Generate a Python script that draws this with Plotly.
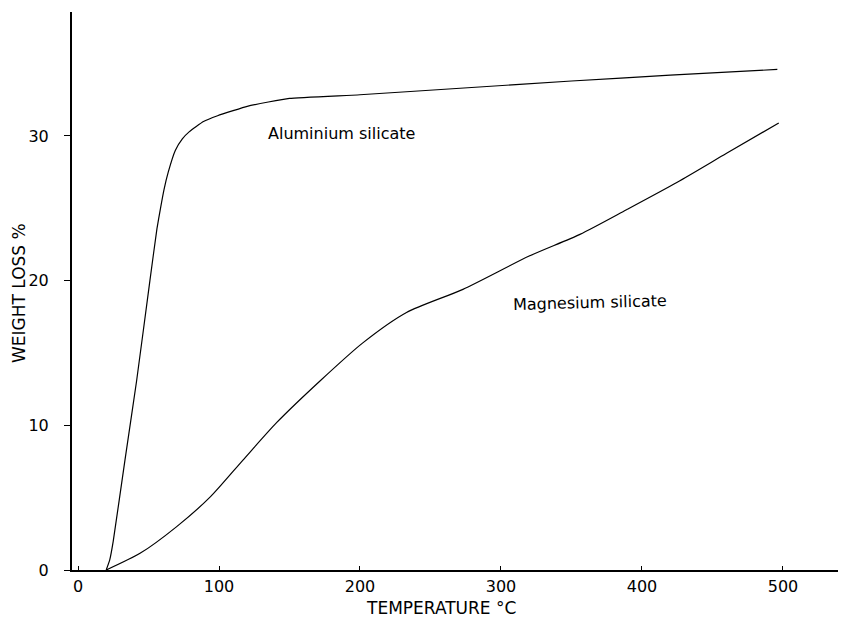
import plotly.graph_objects as go

# Aluminium silicate
al_temp = [20, 22.5, 25, 33.3, 41.6, 51, 56, 58.5, 61, 64, 69, 74, 79, 89, 99, 110, 120, 135, 150, 200, 271, 350, 420, 496]
al_loss = [0, 0.7, 2.0, 7.6, 13.1, 20.0, 23.6, 25.0, 26.3, 27.5, 29.0, 29.8, 30.3, 31.0, 31.4, 31.75, 32.05, 32.35, 32.6, 32.85, 33.3, 33.8, 34.2, 34.6]

# Magnesium silicate
mg_temp = [20, 44, 70, 94, 117, 141, 172, 202, 233, 273, 320, 356, 389, 425, 460, 497]
mg_loss = [0, 1.15, 3.0, 5.07, 7.6, 10.2, 13.1, 15.7, 17.8, 19.4, 21.7, 23.2, 24.9, 26.8, 28.8, 30.9]

x_ticks = [0, 100, 200, 300, 400, 500]
y_ticks = [0, 10, 20, 30]

labels = ["Aluminium silicate", "Magnesium silicate"]
label_x = [187, 363]
label_y = [30.2, 18.5]
label_angle = [0, -1.5]

x_title = "TEMPERATURE °C"
y_title = "WEIGHT LOSS %"

font_family = "DejaVu Sans"

# page body has an 8px margin; figure sized to fit exactly in the window
W, H = 838, 609
L, T, B, R = 64, 4, 47, 0
PW, PH = W - L - R, H - T - B

fig = go.Figure()
fig.add_trace(go.Scatter(x=al_temp, y=al_loss, mode="lines",
                         line=dict(color="black", width=1.2, shape="spline", smoothing=0.4),
                         showlegend=False))
fig.add_trace(go.Scatter(x=mg_temp, y=mg_loss, mode="lines",
                         line=dict(color="black", width=1.2, shape="spline", smoothing=0.7),
                         showlegend=False))

for t, lx, ly, a in zip(labels, label_x, label_y, label_angle):
    fig.add_annotation(x=lx, y=ly, text=t, showarrow=False, textangle=a,
                       font=dict(family=font_family, size=16, color="black"))

fig.add_annotation(xref="paper", yref="paper", x=(441 - 72) / PW, y=-(608 - 570) / PH,
                   text=x_title, showarrow=False, xanchor="center", yanchor="middle",
                   font=dict(family=font_family, size=17, color="black"))
fig.add_annotation(xref="paper", yref="paper", x=-(72 - 19) / PW, y=(570 - 293) / PH,
                   text=y_title, showarrow=False, textangle=-90, xanchor="center", yanchor="middle",
                   font=dict(family=font_family, size=17, color="black"))

fig.update_layout(
    width=W, height=H,
    margin=dict(l=L, r=R, t=T, b=B, autoexpand=False),
    paper_bgcolor="white", plot_bgcolor="white",
    font=dict(family=font_family, color="black"),
    xaxis=dict(range=[-4.26, 544.7], tickvals=x_ticks, ticktext=[str(v) for v in x_ticks],
               showgrid=False, zeroline=False, showline=True, linecolor="black", linewidth=1.5,
               ticks="inside", ticklen=4, tickcolor="black", automargin=False,
               ticklabelstandoff=1,
               tickfont=dict(size=16, family=font_family)),
    yaxis=dict(range=[0, 38.57], tickvals=y_ticks, ticktext=[str(v) for v in y_ticks],
               showgrid=False, zeroline=False, showline=True, linecolor="black", linewidth=2,
               ticks="outside", ticklen=6, tickcolor="black", automargin=False,
               ticklabelstandoff=12,
               tickfont=dict(size=16, family=font_family)),
)

fig.write_html("out.html")
